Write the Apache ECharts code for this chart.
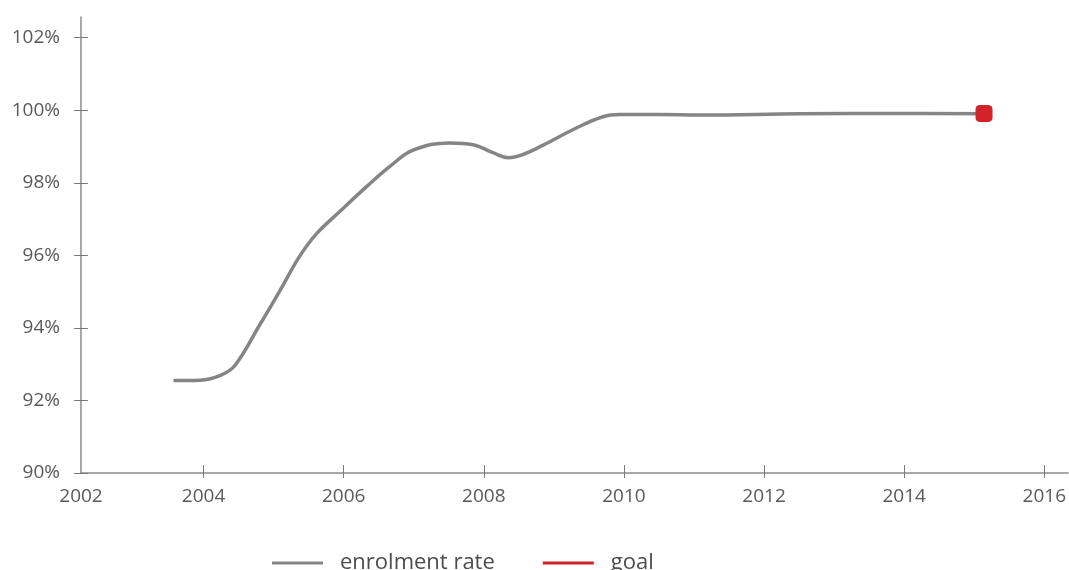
<!DOCTYPE html>
<html>
<head>
<meta charset="utf-8">
<script src="https://cdn.jsdelivr.net/npm/echarts@6/dist/echarts.min.js"></script>
<style>
  html, body { margin: 0; padding: 0; background: #ffffff; }
  #chart { width: 1069px; height: 570px; }
</style>
</head>
<body>
<div id="chart"></div>
<script>
// Net enrolment rate by year (%)
const years = [2003.57, 2003.95, 2004.25, 2004.45, 2004.80, 2005.09, 2005.37, 2005.61,
  2005.94, 2006.33, 2006.66, 2006.99, 2007.51, 2007.85, 2008.13, 2008.35, 2008.56, 2008.84,
  2009.32, 2009.70, 2009.94, 2010.50, 2011.08, 2012.51, 2013.93, 2015.14];
const enrolment = [92.55, 92.56, 92.70, 92.97, 94.08, 95.03, 95.97, 96.59,
  97.20, 97.90, 98.45, 98.90, 99.10, 99.05, 98.83, 98.69, 98.78, 99.03,
  99.51, 99.82, 99.88, 99.88, 99.87, 99.90, 99.91, 99.90];

// Target value
const goalYear = [2015.14];
const goalValue = [99.91];

// Axis ticks
const xTicks = [2004, 2006, 2008, 2010, 2012, 2014, 2016];
const xLabels = [2002.25, 2004, 2006, 2008, 2010, 2012, 2014, 2016];
const yTicks = [90, 92, 94, 96, 98, 100, 102];

const seriesNames = ['enrolment rate', 'goal'];

const X_MIN = 2002.25, X_MAX = 2016.34;
const Y_MIN = 90, Y_MAX = 102.57;

const labelColor = '#595959';
const axisColor = '#8c8c8c';
const font = '"Open Sans", "Noto Sans", sans-serif';

const chart = echarts.init(document.getElementById('chart'), null, { renderer: 'canvas' });

chart.setOption({
  animation: false,
  backgroundColor: '#ffffff',
  grid: { left: 81, right: 0, top: 17, bottom: 97, containLabel: false },
  legend: {
    data: seriesNames,
    left: 267,
    top: 546,
    icon: 'rect',
    itemWidth: 51,
    itemHeight: 3,
    itemGap: 48,
    textStyle: {
      fontFamily: font,
      fontSize: 22,
      color: '#4d4d4d',
      padding: [0, 0, 0, 12],
      lineHeight: 24
    }
  },
  xAxis: [
    {
      type: 'value',
      min: X_MIN,
      max: X_MAX,
      splitLine: { show: false },
      axisLine: { show: true, onZero: false, lineStyle: { color: axisColor, width: 1.5 } },
      axisTick: { show: true, length: 5, customValues: xTicks, lineStyle: { color: '#7a7a7a', width: 1 } },
      axisLabel: {
        customValues: xLabels,
        formatter: v => String(Math.round(v)),
        margin: 14,
        fontFamily: font,
        fontSize: 19,
        color: labelColor
      }
    },
    {
      type: 'value',
      min: X_MIN,
      max: X_MAX,
      position: 'bottom',
      splitLine: { show: false },
      axisLine: { show: false, onZero: false },
      axisTick: { show: true, inside: true, length: 8, customValues: xTicks, lineStyle: { color: '#7a7a7a', width: 1 } },
      axisLabel: { show: false }
    }
  ],
  yAxis: [
    {
      type: 'value',
      min: Y_MIN,
      max: Y_MAX,
      splitLine: { show: false },
      axisLine: { show: true, onZero: false, lineStyle: { color: axisColor, width: 1.5 } },
      axisTick: { show: true, length: 7, customValues: yTicks, lineStyle: { color: '#7a7a7a', width: 1 } },
      axisLabel: {
        customValues: yTicks,
        formatter: v => v + '%',
        margin: 21,
        fontFamily: font,
        fontSize: 19,
        color: labelColor
      }
    },
    {
      type: 'value',
      min: Y_MIN,
      max: Y_MAX,
      position: 'left',
      splitLine: { show: false },
      axisLine: { show: false, onZero: false },
      axisTick: { show: true, inside: true, length: 7, customValues: yTicks, lineStyle: { color: '#7a7a7a', width: 1 } },
      axisLabel: { show: false }
    }
  ],
  series: [
    {
      name: seriesNames[0],
      type: 'line',
      smooth: 0.4,
      showSymbol: false,
      symbol: 'none',
      color: '#858585',
      lineStyle: { color: '#858585', width: 3.5 },
      data: years.map((y, i) => [y, enrolment[i]]),
      z: 2
    },
    {
      name: seriesNames[1],
      type: 'line',
      symbol: 'roundRect',
      symbolSize: 17,
      showSymbol: true,
      color: '#d2232a',
      itemStyle: { color: '#d2232a' },
      lineStyle: { color: '#d2232a', width: 3 },
      data: goalYear.map((y, i) => [y, goalValue[i]]),
      z: 3
    }
  ]
});
</script>
</body>
</html>
